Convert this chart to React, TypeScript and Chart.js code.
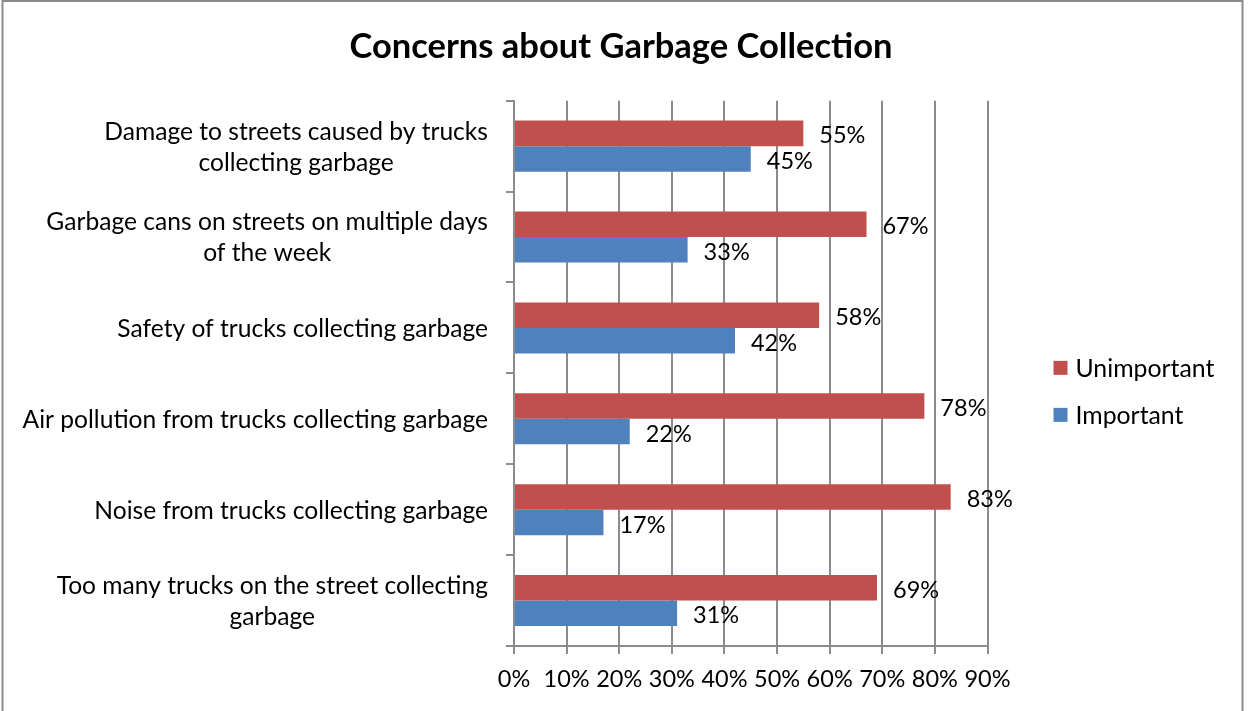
import React, { useEffect, useRef } from "react";
import { Chart, registerables } from "chart.js";

Chart.register(...registerables);

const TITLE = "Concerns about Garbage Collection";
const categories: string[][] = [
  ["Damage to streets caused by trucks", "collecting garbage"],
  ["Garbage cans on streets on multiple days", "of the week"],
  ["Safety of trucks collecting garbage"],
  ["Air pollution from trucks collecting garbage"],
  ["Noise from trucks collecting garbage"],
  ["Too many trucks on the street collecting", "garbage"],
];
const seriesNames = ["Unimportant", "Important"];
const unimportant = [55, 67, 58, 78, 83, 69];
const important = [45, 33, 42, 22, 17, 31];
const xMin = 0;
const xMax = 90;
const xStep = 10;

const RED = "#C0504D";
const BLUE = "#4F81BD";
const GRID = "#8c8c8c";
const FONT = "Lato";

const frame = {
  id: "frame",
  beforeDraw(chart: any) {
    const ctx = chart.ctx;
    ctx.save();
    ctx.fillStyle = "#ffffff";
    ctx.fillRect(0, 0, chart.width, chart.height);
    ctx.strokeStyle = GRID;
    ctx.lineWidth = 2;
    ctx.strokeRect(2.5, 1, 1240, chart.height + 20);
    ctx.fillStyle = "#000";
    ctx.font = `bold 34.5px ${FONT}`;
    ctx.textAlign = "center";
    ctx.textBaseline = "middle";
    ctx.fillText(TITLE, 621, 47);
    ctx.restore();
  },
};

const catLabels = {
  id: "catLabels",
  afterDraw(chart: any) {
    const ctx = chart.ctx;
    const y = chart.scales.y;
    const right = chart.chartArea.left - 26;
    const lineH = 31;
    ctx.save();
    ctx.font = `24.6px ${FONT}`;
    ctx.fillStyle = "#000";
    ctx.textAlign = "center";
    ctx.textBaseline = "middle";
    categories.forEach((lines, i) => {
      const cy = y.getPixelForValue(i);
      const w = Math.max(...lines.map((l) => ctx.measureText(l).width));
      const cx = right - w / 2;
      lines.forEach((l, j) => {
        ctx.fillText(l, cx, cy + (j - (lines.length - 1) / 2) * lineH + 1);
      });
    });
    ctx.restore();
  },
};

const dataLabels = {
  id: "dataLabels",
  afterDatasetsDraw(chart: any) {
    const ctx = chart.ctx;
    ctx.save();
    ctx.font = `23.5px ${FONT}`;
    ctx.fillStyle = "#000";
    ctx.textAlign = "left";
    ctx.textBaseline = "middle";
    chart.data.datasets.forEach((ds: any, di: number) => {
      const meta = chart.getDatasetMeta(di);
      meta.data.forEach((bar: any, i: number) => {
        ctx.fillText(`${ds.data[i]}%`, bar.x + 16, bar.y + 2.5);
      });
    });
    ctx.restore();
  },
};

const legendPlugin = {
  id: "customLegend",
  afterDraw(chart: any) {
    const ctx = chart.ctx;
    const area = chart.chartArea;
    const x0 = area.right + 66;
    const mid = (area.top + area.bottom) / 2 + 18;
    const spacing = 47;
    ctx.save();
    ctx.font = `24.8px ${FONT}`;
    ctx.textAlign = "left";
    ctx.textBaseline = "middle";
    chart.data.datasets.forEach((ds: any, i: number) => {
      const cy = mid + (i - (chart.data.datasets.length - 1) / 2) * spacing;
      ctx.fillStyle = ds.backgroundColor;
      ctx.fillRect(x0, cy - 7, 14, 14);
      ctx.fillStyle = "#000";
      ctx.fillText(ds.label, x0 + 22, cy + 1.5);
    });
    ctx.restore();
  },
};

export default function App() {
  const ref = useRef<HTMLCanvasElement | null>(null);

  useEffect(() => {
    if (!ref.current) return;
    const chart = new Chart(ref.current, {
      type: "bar",
      data: {
        labels: categories.map((c) => c.join(" ")),
        datasets: [
          { label: seriesNames[0], data: unimportant, backgroundColor: RED, borderWidth: 0 },
          { label: seriesNames[1], data: important, backgroundColor: BLUE, borderWidth: 0 },
        ],
      },
      options: {
        indexAxis: "y",
        responsive: false,
        animation: false,
        maintainAspectRatio: false,
        datasets: {
          bar: { categoryPercentage: 0.5617, barPercentage: 1 },
        },
        layout: { padding: { left: 0, right: 261.5, top: 100.7, bottom: 17.8 } },
        plugins: {
          legend: { display: false },
          tooltip: { enabled: false },
          title: { display: false },
        },
        scales: {
          x: {
            type: "linear",
            min: xMin,
            max: xMax,
            ticks: {
              stepSize: xStep,
              color: "#000",
              font: { family: FONT, size: 23.5 },
              padding: 11,
              callback: (v: any) => `${v}%`,
            },
            grid: { color: GRID, lineWidth: 2, tickLength: 8, drawOnChartArea: true },
            border: { display: true, color: GRID, width: 2 },
            afterFit: (s: any) => {
              s.height = 47.2;
            },
          },
          y: {
            type: "category",
            ticks: { display: false },
            grid: { color: GRID, lineWidth: 2, tickLength: 8, drawOnChartArea: false, offset: true },
            border: { display: true, color: GRID, width: 2 },
            afterFit: (s: any) => {
              s.width = 514;
            },
          },
        },
      },
      plugins: [frame, catLabels, dataLabels, legendPlugin],
    });
    return () => chart.destroy();
  }, []);

  return (
    <div style={{ position: "absolute", left: 0, top: 0, width: 1249, height: 711 }}>
      <canvas ref={ref} width={1249} height={711} style={{ display: "block" }} />
    </div>
  );
}
